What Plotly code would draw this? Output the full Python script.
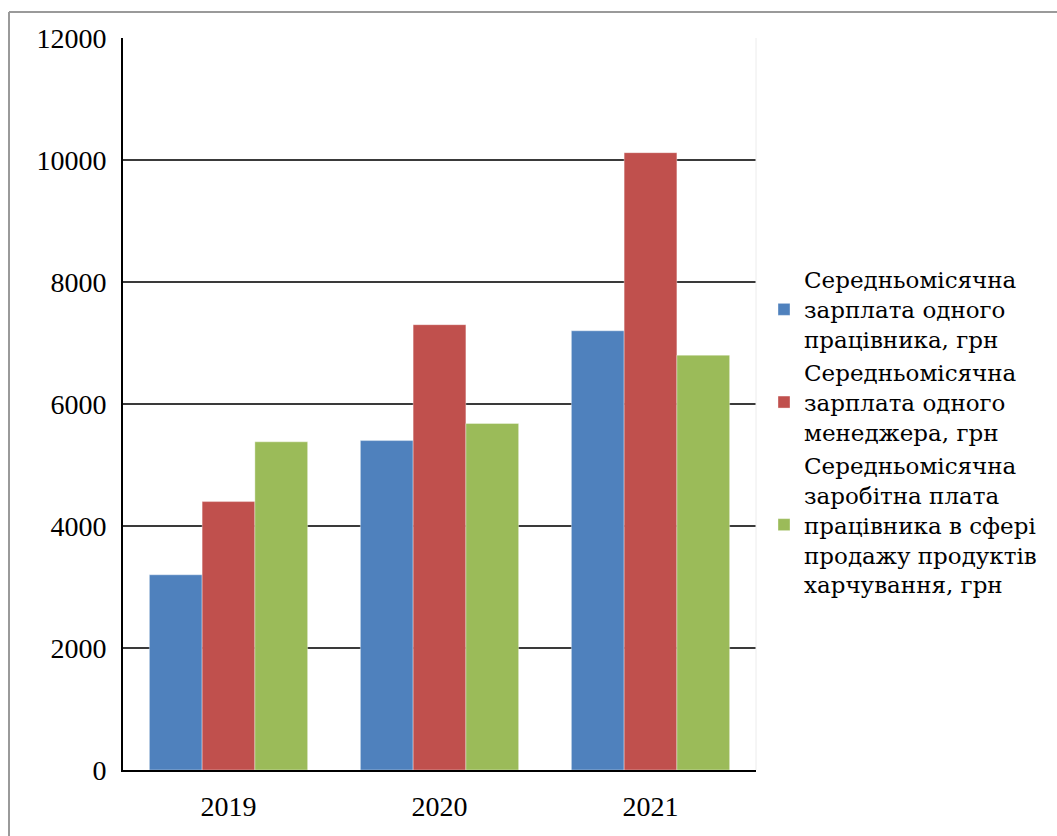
import plotly.graph_objects as go

years = ["2019", "2020", "2021"]
workers = [3200, 5400, 7200]
managers = [4400, 7300, 10120]
food_sales = [5380, 5680, 6800]

names = [
    "Середньомісячна<br>зарплата одного<br>працівника, грн",
    "Середньомісячна<br>зарплата одного<br>менеджера, грн",
    "Середньомісячна<br>заробітна плата<br>працівника в сфері<br>продажу продуктів<br>харчування, грн",
]
colors = ["#4F81BD", "#C0504D", "#9BBB59"]
y_ticks = [0, 2000, 4000, 6000, 8000, 10000, 12000]

SERIF = "Liberation Serif"
LEG_FONT = "DejaVu Serif"

fig = go.Figure()
for vals, name, col in zip([workers, managers, food_sales], names, colors):
    fig.add_trace(go.Bar(x=years, y=vals, name=name,
                         marker=dict(color=col, line=dict(width=0.6, color="rgba(255,255,255,0.6)"))))

W, H = 1057, 836
L, R, T, B = 123, 756, 38, 770
pw, ph = R - L, B - T

def px_x(x):
    return (x - L) / pw

def px_y(y):
    return (B - y) / ph

fig.update_layout(
    width=W, height=H,
    margin=dict(l=L, r=W - R, t=T, b=H - B),
    paper_bgcolor="white", plot_bgcolor="white",
    barmode="group", bargap=0.25, bargroupgap=0,
    font=dict(family=SERIF, size=27, color="#000000"),
    legend=dict(
        x=px_x(764), xanchor="left",
        y=px_y(432), yanchor="middle",
        font=dict(family=LEG_FONT, size=23, color="#000000"),
        tracegroupgap=0, itemwidth=30,
        bgcolor="rgba(0,0,0,0)",
    ),
    showlegend=True,
    xaxis=dict(
        showgrid=False, showline=True, linecolor="#000000", linewidth=2,
        ticks="", ticklabelstandoff=10, tickfont=dict(family=SERIF, size=28),
        fixedrange=True,
    ),
    yaxis=dict(
        range=[0, 12000], tickvals=y_ticks, ticktext=[str(v) for v in y_ticks],
        showgrid=True, gridcolor="#3a3a3a", gridwidth=1.6,
        showline=True, linecolor="#000000", linewidth=2,
        zeroline=False, ticks="", ticklabelstandoff=9, tickfont=dict(family=SERIF, size=28),
        fixedrange=True,
    ),
    shapes=[
        dict(type="line", xref="paper", yref="paper",
             x0=px_x(9), x1=px_x(1070), y0=px_y(12), y1=px_y(12),
             line=dict(color="#9a9a9a", width=2)),
        dict(type="line", xref="paper", yref="paper",
             x0=px_x(9), x1=px_x(9), y0=px_y(12), y1=px_y(850),
             line=dict(color="#9a9a9a", width=2)),
        dict(type="line", xref="paper", yref="paper",
             x0=1, x1=1, y0=0, y1=1,
             line=dict(color="#ececec", width=1)),
    ],
)

fig.write_html("out.html")
